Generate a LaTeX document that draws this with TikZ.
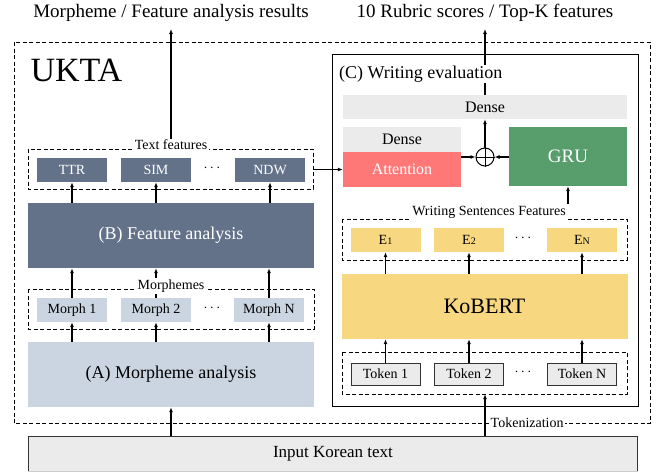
\documentclass[tikz,border=0pt]{standalone}
\usepackage{fontspec}
\setmainfont{Liberation Serif}
\usetikzlibrary{arrows.meta}
\definecolor{slateC}{HTML}{637289}
\definecolor{lblueC}{HTML}{CBD5E1}
\definecolor{salmonC}{HTML}{FF7878}
\definecolor{greenC}{HTML}{589E6D}
\definecolor{yellowC}{HTML}{F8D781}
\definecolor{lgrayC}{HTML}{EBEBEB}
\definecolor{dgrayC}{HTML}{333333}
\tikzset{
  arr/.style={-{Latex[length=5pt,width=4pt]},line width=1.1pt},
  dbox/.style={draw,dashed,line width=0.8pt,dash pattern=on 4pt off 2.5pt},
  small/.style={font=\fontsize{14}{16}\selectfont},
  lab/.style={font=\fontsize{14}{16}\selectfont,fill=white,inner sep=1.5pt},
  big/.style={font=\fontsize{19}{22}\selectfont},
  sbox/.style={small,minimum width=70pt,minimum height=24pt,inner sep=0pt},
  tokbox/.style={fill=lgrayC,draw=dgrayC,line width=0.8pt,small,minimum width=69pt,minimum height=22pt,inner sep=0pt},
}
\begin{document}
\begin{tikzpicture}[x=1pt,y=-1pt]
\useasboundingbox (0,0) rectangle (667,472);
% outer dashed box
\draw[dbox] (14,42) rectangle (650,423);
\node[font=\fontsize{34}{36}\selectfont,anchor=west] (ukta) at (27,70) {UKTA};

% titles
\node[big] (t1) at (171,13) {Morpheme / Feature analysis results};
\node[big] (t2) at (485,13) {10 Rubric scores / Top-K features};

% ---- left column ----
\draw[dbox] (28,149) rectangle (313,189);
\node[inner sep=0pt,minimum width=285pt,minimum height=40pt] (tfgroup) at (170.5,169) {};
\node[fill=slateC,text=white,sbox] (ttr) at (72,170) {TTR};
\node[fill=slateC,text=white,sbox] (sim) at (156,170) {SIM};
\node[fill=slateC,text=white,sbox] (ndw) at (270,170) {NDW};
\node[small] (dots1) at (212,168) {$\cdots$};

\node[fill=slateC,text=white,inner sep=0pt,minimum width=286pt,minimum height=65pt,font=\fontsize{18}{20}\selectfont] (fa) at (171,235.5) {(B) Feature analysis};

\draw[dbox] (28,289) rectangle (314,329);
\node[fill=lblueC,sbox] (m1) at (72,310) {Morph 1};
\node[fill=lblueC,sbox] (m2) at (156,310) {Morph 2};
\node[fill=lblueC,sbox] (mn) at (269,310) {Morph N};
\node[small] (dots2) at (212,308) {$\cdots$};

\node[fill=lblueC,inner sep=0pt,minimum width=286pt,minimum height=65pt,font=\fontsize{18}{20}\selectfont] (ma) at (171,374.5) {(A) Morpheme analysis};

\node[fill=lgrayC,draw=dgrayC,line width=0.8pt,inner sep=0pt,minimum width=609pt,minimum height=35pt,font=\fontsize{17}{20}\selectfont] (inp) at (333,454) {Input Korean text};
\draw[lgrayC!70!gray,line width=1pt] (inp.south west) -- (inp.south east);

% ---- right column ----
\draw[line width=0.9pt] (332,54) rectangle (638,406);

\draw[dbox] (342,352) rectangle (627,394);
\node[inner sep=0pt,minimum width=285pt,minimum height=42pt] (tokgroup) at (484.5,373) {};
\node[tokbox] (tk1) at (385.5,374) {Token 1};
\node[tokbox] (tk2) at (469,374) {Token 2};
\node[tokbox] (tkn) at (582,374) {Token N};
\node[small] (dots4) at (523,372) {$\cdots$};

\node[fill=yellowC,inner sep=0pt,minimum width=286pt,minimum height=65pt,font=\fontsize{22}{24}\selectfont] (kob) at (484.5,306.5) {KoBERT};

\draw[dbox] (342,219) rectangle (627,260);
\node[fill=yellowC,sbox] (e1) at (385.5,240) {E{\fontsize{10}{10}\selectfont 1}};
\node[fill=yellowC,sbox] (e2) at (469,240) {E{\fontsize{10}{10}\selectfont 2}};
\node[fill=yellowC,sbox] (en) at (582,240) {E{\fontsize{10}{10}\selectfont N}};
\node[small] (dots3) at (523,238) {$\cdots$};

\node[fill=lgrayC,inner sep=0pt,minimum width=284pt,minimum height=24pt,font=\fontsize{16}{18}\selectfont] (dense) at (485,107) {Dense};
\node[fill=lgrayC,inner sep=0pt,minimum width=118pt,minimum height=25pt,font=\fontsize{16}{18}\selectfont] (dense2) at (402,139.5) {Dense};
\node[fill=salmonC,text=white,inner sep=0pt,minimum width=118pt,minimum height=35pt,font=\fontsize{16}{18}\selectfont] (att) at (402,169.5) {Attention};
\node[fill=greenC,text=white,inner sep=0pt,minimum width=118pt,minimum height=59pt,font=\fontsize{19}{21}\selectfont] (gru) at (568,156.5) {GRU};
\node[draw,circle,line width=1pt,minimum size=18pt,inner sep=0pt] (plus) at (485,157) {};
\draw[line width=1pt] (plus.north) -- (plus.south) (plus.west) -- (plus.east);

% ---- arrows ----
\coordinate (o1) at (171,29);
\coordinate (o2) at (485,29);
\coordinate (wsf) at (568,204);
\draw[arr] (tfgroup.north -| t1) -- (o1);
\draw[arr] (dense.north) -- (o2);
\node[font=\fontsize{18}{20}\selectfont,fill=white,inner sep=1pt,anchor=west] (ctitle) at (338,74) {(C) Writing evaluation};

\foreach \b in {ttr,sim,ndw}{\draw[arr] (fa.north -| \b) -- (\b.south);}
\foreach \b in {m1,m2,mn}{\draw[arr] (\b.north) -- (fa.south -| \b);}
\foreach \b in {m1,m2,mn}{\draw[arr] (ma.north -| \b) -- (\b.south);}
\draw[arr] (inp.north -| ma) -- (ma.south);

\foreach \b in {tk1,tk2,tkn}{\draw[arr] (\b.north) -- (kob.south -| \b);}
\foreach \b in {e1,e2,en}{\draw[arr] (kob.north -| \b) -- (\b.south);}
\draw[arr] (inp.north -| plus) -- (tokgroup.south -| plus);
\draw[arr] (tfgroup.east |- att) -- (att.west);
\draw[arr] (att.east |- plus) -- (plus.west);
\draw[arr] (gru.west |- plus) -- (plus.east);
\draw[arr] (plus.north) -- (dense.south);
\draw[arr] (wsf) -- (gru.south);

% group labels
\node[lab] (lbl1) at (171,145) {Text features};
\node[lab] (lbl2) at (171,286) {Morphemes};
\node[lab] (lbl3) at (489,212) {Writing Sentences Features};
\node[lab,anchor=west] (lbl4) at (489,423) {Tokenization};
\end{tikzpicture}
\end{document}
